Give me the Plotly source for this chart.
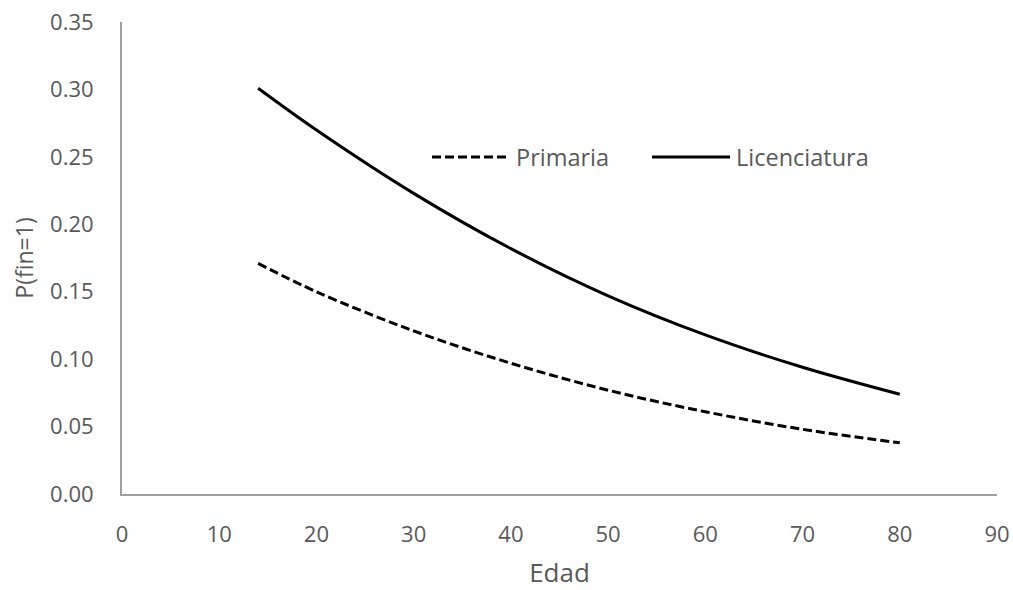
import plotly.graph_objects as go

edad = [14, 20, 30, 40, 50, 60, 70, 80]
primaria = [0.171, 0.150, 0.121, 0.097, 0.077, 0.061, 0.048, 0.038]
licenciatura = [0.301, 0.270, 0.223, 0.182, 0.147, 0.118, 0.094, 0.074]

x_ticks = [0, 10, 20, 30, 40, 50, 60, 70, 80, 90]
y_ticks = [0.00, 0.05, 0.10, 0.15, 0.20, 0.25, 0.30, 0.35]

font_family = "Open Sans"
txt_color = "#595959"

fig = go.Figure()
fig.add_trace(go.Scatter(x=edad, y=primaria, mode="lines", name="Primaria",
                         line=dict(color="black", width=3, dash="9px,4px", shape="spline"),
                         showlegend=False))
fig.add_trace(go.Scatter(x=edad, y=licenciatura, mode="lines", name="Licenciatura",
                         line=dict(color="black", width=3, shape="spline"),
                         showlegend=False))

# manual legend
leg_y = 0.714
fig.add_shape(type="line", xref="paper", yref="paper", x0=0.3543, x1=0.4434, y0=leg_y, y1=leg_y,
              line=dict(color="black", width=3, dash="9px,4px"))
fig.add_annotation(xref="paper", yref="paper", x=0.4480, y=leg_y, text="Primaria",
                   showarrow=False, xanchor="left", yanchor="middle",
                   font=dict(family=font_family, size=23.5, color=txt_color))
fig.add_shape(type="line", xref="paper", yref="paper", x0=0.6057, x1=0.6949, y0=leg_y, y1=leg_y,
              line=dict(color="black", width=3))
fig.add_annotation(xref="paper", yref="paper", x=0.6995, y=leg_y, text="Licenciatura",
                   showarrow=False, xanchor="left", yanchor="middle",
                   font=dict(family=font_family, size=23.5, color=txt_color))

fig.update_layout(
    width=1013, height=590,
    margin=dict(l=122, r=16, t=22, b=96, autoexpand=False),
    paper_bgcolor="white", plot_bgcolor="white",
    font=dict(family=font_family, size=21, color=txt_color),
    xaxis=dict(range=[0, 90], tickvals=x_ticks, ticktext=[str(v) for v in x_ticks],
               showgrid=False, zeroline=False, showline=True, linecolor="#a0a0a0", linewidth=2,
               ticks="", ticklabelstandoff=20, tickfont=dict(size=22), automargin=False,
               title=dict(text="Edad", font=dict(size=26, color=txt_color), standoff=17)),
    yaxis=dict(range=[0, 0.3501], tickvals=y_ticks, ticktext=[f"{v:.2f}" for v in y_ticks],
               showgrid=False, zeroline=False, showline=True, linecolor="#a0a0a0", linewidth=2,
               ticks="", ticklabelstandoff=22, tickfont=dict(size=22), automargin=False,
               title=dict(text="P(fin=1)", font=dict(size=23, color=txt_color), standoff=10)),
)

fig.write_html("out.html", config={"displayModeBar": False},
               post_script="document.body.style.margin='0';")
